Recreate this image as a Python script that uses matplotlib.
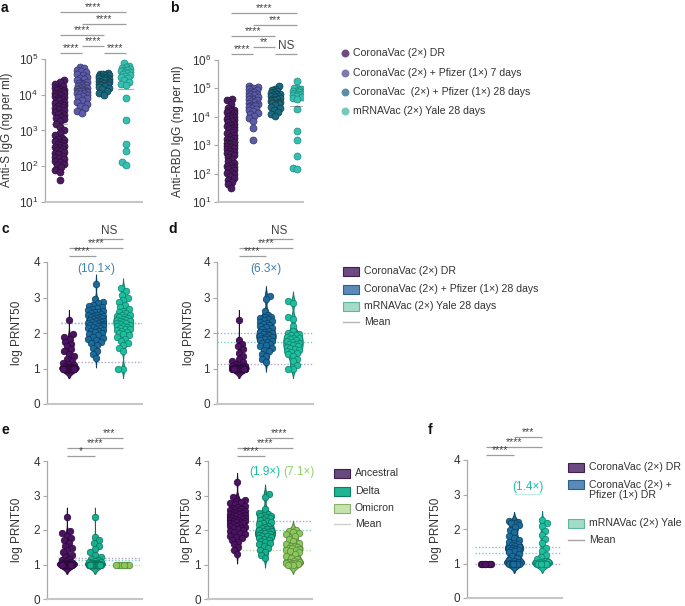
import numpy as np
import matplotlib
matplotlib.use('Agg')
import matplotlib.pyplot as plt
import matplotlib.transforms as mtransforms
from matplotlib.patches import Rectangle
from matplotlib.ticker import LogLocator, NullLocator, FixedLocator

plt.rcParams['font.family'] = ['Liberation Sans', 'DejaVu Sans']
plt.rcParams['mathtext.fontset'] = 'custom'
plt.rcParams['mathtext.rm'] = 'Liberation Sans'
plt.rcParams['mathtext.it'] = 'Liberation Sans:italic'
plt.rcParams['mathtext.bf'] = 'Liberation Sans:bold'

# ------------------------------------------------------------------ data
ab_groups = ['CoronaVac (2×) DR', 'CoronaVac (2×) + Pfizer (1×) 7 days',
             'CoronaVac  (2×) + Pfizer (1×) 28 days', 'mRNAVac (2×) Yale 28 days']
# panel a: log10 anti-S IgG (ng per ml)
a_dr = [4.41, 4.36, 4.29, 4.24, 4.20, 4.18, 4.16, 4.14, 4.12, 4.10, 4.08, 4.06, 4.04, 4.02,
        4.00, 3.97, 3.95, 3.92, 3.89, 3.86, 3.84, 3.81, 3.78, 3.75, 3.72, 3.69, 3.66, 3.63,
        3.60, 3.57, 3.53, 3.50, 3.46, 3.43, 3.39, 3.35, 3.31, 3.27, 3.19, 3.10, 3.02, 2.94,
        2.88, 2.80, 2.77, 2.74, 2.71, 2.68, 2.65, 2.62, 2.59, 2.57, 2.54, 2.51, 2.48, 2.45,
        2.42, 2.39, 2.36, 2.33, 2.30, 2.27, 2.23, 2.19, 2.15, 2.11, 2.07, 2.03, 1.97, 1.90,
        1.83, 1.62]
a_7d = [4.78, 4.74, 4.70, 4.66, 4.63, 4.59, 4.55, 4.51, 4.47, 4.43, 4.40, 4.37, 4.34, 4.32,
        4.30, 4.28, 4.26, 4.24, 4.22, 4.20, 4.18, 4.16, 4.14, 4.12, 4.10, 4.08, 4.06, 4.04,
        4.02, 4.00, 3.97, 3.94, 3.90, 3.85, 3.80, 3.74, 3.68, 3.62, 3.55, 3.50]
a_28d = [4.62, 4.59, 4.57, 4.55, 4.54, 4.52, 4.51, 4.49, 4.48, 4.46, 4.45, 4.43, 4.42, 4.40,
         4.39, 4.37, 4.36, 4.34, 4.33, 4.31, 4.29, 4.27, 4.25, 4.22, 4.19, 4.15, 4.10, 4.04,
         3.98]
a_mrna = [4.90, 4.80, 4.77, 4.74, 4.72, 4.70, 4.69, 4.67, 4.65, 4.63, 4.61, 4.59, 4.56, 4.53,
          4.50, 4.46, 4.42, 4.37, 4.31, 4.26, 3.92, 3.29, 2.62, 2.42, 2.11, 2.03]
# panel b: log10 anti-RBD IgG (ng per ml)
b_dr = [4.63, 4.58, 4.45, 4.30, 4.24, 4.20, 4.16, 4.12, 4.08, 4.04, 4.00, 3.96, 3.92, 3.88,
        3.84, 3.80, 3.76, 3.72, 3.68, 3.64, 3.60, 3.56, 3.52, 3.47, 3.43, 3.36, 3.30, 3.25,
        3.21, 3.17, 3.13, 3.09, 3.05, 3.01, 2.97, 2.93, 2.89, 2.85, 2.81, 2.77, 2.73, 2.69,
        2.65, 2.58, 2.50, 2.43, 2.36, 2.31, 2.27, 2.23, 2.19, 2.15, 2.11, 2.07, 2.03, 1.98,
        1.92, 1.86, 1.78, 1.70, 1.62, 1.48]
b_7d = [5.08, 5.05, 5.02, 5.00, 4.97, 4.94, 4.91, 4.88, 4.85, 4.82, 4.79, 4.76, 4.73, 4.70,
        4.67, 4.64, 4.61, 4.58, 4.55, 4.52, 4.49, 4.46, 4.43, 4.40, 4.36, 4.32, 4.28, 4.24,
        4.20, 4.15, 4.10, 4.03, 3.95, 3.85, 3.60, 3.18]
b_28d = [5.08, 4.98, 4.94, 4.90, 4.87, 4.84, 4.82, 4.79, 4.77, 4.74, 4.72, 4.69, 4.67, 4.64,
         4.62, 4.59, 4.56, 4.53, 4.50, 4.47, 4.44, 4.40, 4.36, 4.31, 4.25, 4.18, 4.10, 4.04]
b_mrna = [5.27, 5.03, 5.00, 4.97, 4.94, 4.92, 4.90, 4.88, 4.86, 4.84, 4.82, 4.80, 4.78, 4.76,
          4.73, 4.70, 4.66, 4.62, 4.27, 3.50, 3.18, 2.62, 2.18, 2.16]

# panels c-f: log PRNT50
c_dr = [2.38, 1.96, 1.90, 1.84, 1.76, 1.70, 1.62, 1.55, 1.48, 1.42, 1.35, 1.28, 1.22, 1.16,
        1.12, 1.09, 1.07, 1.05, 1.04, 1.03, 1.02, 1.02, 1.01, 1.01, 1.00, 1.00, 1.00, 1.00,
        1.00, 1.00, 1.00, 1.00, 1.00, 1.00, 1.00, 1.00, 1.00, 1.00, 1.00, 1.00, 1.00, 1.00,
        1.00, 1.00, 1.00, 1.00, 1.00, 1.00]
c_pf = [3.38, 2.95, 2.88, 2.85, 2.80, 2.77, 2.74, 2.70, 2.67, 2.64, 2.62, 2.60, 2.58, 2.56,
        2.54, 2.52, 2.50, 2.49, 2.47, 2.46, 2.44, 2.43, 2.41, 2.40, 2.38, 2.37, 2.35, 2.34,
        2.32, 2.31, 2.29, 2.28, 2.26, 2.25, 2.23, 2.22, 2.20, 2.19, 2.17, 2.15, 2.13, 2.11,
        2.09, 2.07, 2.05, 2.02, 1.99, 1.96, 1.93, 1.90, 1.87, 1.84, 1.80, 1.76, 1.72, 1.66,
        1.58, 1.50, 1.42, 1.30]
c_mrna = [3.27, 3.18, 3.08, 3.00, 2.94, 2.88, 2.80, 2.74, 2.68, 2.62, 2.58, 2.55, 2.52, 2.50,
          2.48, 2.46, 2.44, 2.42, 2.40, 2.38, 2.36, 2.35, 2.33, 2.31, 2.29, 2.27, 2.25, 2.23,
          2.21, 2.19, 2.17, 2.15, 2.12, 2.10, 2.08, 2.05, 2.02, 2.00, 1.97, 1.93, 1.89, 1.84,
          1.78, 1.72, 1.65, 1.58, 1.50, 1.00, 1.00]
d_dr = [2.38, 1.80, 1.70, 1.62, 1.55, 1.45, 1.35, 1.28, 1.22, 1.17, 1.13, 1.10, 1.08, 1.06,
        1.05, 1.04, 1.03, 1.02, 1.02, 1.01, 1.01, 1.00, 1.00, 1.00, 1.00, 1.00, 1.00, 1.00,
        1.00, 1.00, 1.00, 1.00, 1.00, 1.00, 1.00, 1.00, 1.00, 1.00, 1.00, 1.00, 1.00, 1.00,
        1.00, 1.00, 1.00, 1.00, 1.00]
d_pf = [3.05, 2.95, 2.62, 2.50, 2.46, 2.44, 2.42, 2.40, 2.37, 2.34, 2.31, 2.28, 2.25, 2.22,
        2.19, 2.16, 2.13, 2.10, 2.07, 2.04, 2.02, 2.00, 1.98, 1.96, 1.94, 1.92, 1.90, 1.88,
        1.86, 1.84, 1.82, 1.80, 1.78, 1.75, 1.72, 1.69, 1.66, 1.62, 1.58, 1.53, 1.48, 1.42,
        1.35, 1.27, 1.18]
d_mrna = [2.90, 2.84, 2.45, 2.40, 2.20, 2.05, 2.00, 1.97, 1.95, 1.93, 1.90, 1.87, 1.85, 1.82,
          1.80, 1.78, 1.75, 1.72, 1.70, 1.68, 1.65, 1.62, 1.60, 1.57, 1.55, 1.52, 1.50, 1.47,
          1.44, 1.40, 1.35, 1.28, 1.20, 1.10, 1.00, 1.00]
# e: ancestral / delta / omicron (ancestral = c, delta = d)
e_dr_omicron = [1.00, 1.00, 1.00, 1.00, 1.00, 1.00, 1.00, 1.00]
e_pf_omicron = [2.00, 1.98, 1.95, 1.92, 1.88, 1.82, 1.75, 1.68, 1.62, 1.58, 1.55, 1.53, 1.51,
                1.49, 1.47, 1.45, 1.43, 1.41, 1.38, 1.35, 1.30, 1.25, 1.20, 1.15, 1.10, 1.08,
                1.06, 1.05, 1.04, 1.03, 1.02, 1.01, 1.00, 1.00]
# f
f_dr = [1.00, 1.00, 1.00, 1.00, 1.00, 1.00, 1.00, 1.00]
f_pf = [2.22, 2.20, 2.18, 2.16, 2.12, 2.05, 1.98, 1.90, 1.80, 1.74, 1.68, 1.63, 1.59, 1.56,
        1.53, 1.50, 1.48, 1.46, 1.44, 1.42, 1.40, 1.38, 1.35, 1.32, 1.28, 1.22, 1.15, 1.10,
        1.06, 1.04, 1.02, 1.01, 1.00, 1.00, 1.00, 1.00, 1.00, 1.00]
f_mrna = [2.25, 2.18, 2.10, 1.95, 1.82, 1.70, 1.58, 1.45, 1.35, 1.25, 1.18, 1.12, 1.08, 1.05,
          1.04, 1.03, 1.02, 1.01, 1.00, 1.00, 1.00, 1.00, 1.00, 1.00, 1.00, 1.00]

cd_groups = ['CoronaVac (2×) DR', 'CoronaVac (2×) + Pfizer (1×) 28 days', 'mRNAVac (2×) Yale 28 days']
e_groups = ['Ancestral', 'Delta', 'Omicron']
f_groups = ['CoronaVac (2×) DR', 'CoronaVac (2×) +\nPfizer (1×) DR', 'mRNAVac (2×) Yale']
fold_c, fold_d = '(10.1×)', '(6.3×)'
fold_e = ['(1.9×)', '(7.1×)']
fold_f = '(1.4×)'

# ------------------------------------------------------------------ colours
AB_FACE = ['#4a1a5f', '#5d5ca6', '#19697f', '#35c1b1']
AB_EDGE = ['#2a0c38', '#33346c', '#0b3d4c', '#1d8a7e']
AB_LEG = ['#6d4d80', '#7d7aae', '#5d8fa3', '#6fcabd']
PUR, PUR_E = '#4b1362', '#2b0838'
BLU, BLU_E = '#1b6b9c', '#0c3f60'
TEA, TEA_E = '#1dbf9f', '#0f7f69'
DEL, DEL_E = '#17b08e', '#0b6e58'
OMI, OMI_E = '#8dc65d', '#56863a'
M_PUR, M_BLU, M_TEA, M_GRN = '#b9a3c9', '#8dbbd9', '#74d0c6', '#b7dc98'
TXT = '#333333'
LEG_FS = 7.6

W, H = 685, 606
fig = plt.figure(figsize=(W / 100, H / 100), dpi=100)
ov = fig.add_axes([0, 0, 1, 1])
ov.set_xlim(0, W)
ov.set_ylim(H, 0)
ov.axis('off')


def add_ax(x0, y0, x1, y1):
    ax = fig.add_axes([x0 / W, 1 - y1 / H, (x1 - x0) / W, (y1 - y0) / H])
    ax.patch.set_alpha(0)
    for s in ['top', 'right']:
        ax.spines[s].set_visible(False)
    ax.spines['left'].set_color('#a9a9a9')
    ax.spines['left'].set_linewidth(0.9)
    ax.spines['bottom'].set_color('#c6c6c6')
    ax.spines['bottom'].set_linewidth(1.5)
    ax.tick_params(axis='x', bottom=False, labelbottom=False)
    ax.tick_params(axis='y', colors='#a9a9a9', labelcolor=TXT, length=3, width=0.8,
                   labelsize=8.5, pad=2)
    return ax


def swarm(ax, pos, vals, d, max_half, overlap=0.8):
    vals = np.asarray(vals, float)
    pts = ax.transData.transform(np.column_stack([np.full(len(vals), pos), vals]))
    ypx = pts[:, 1]
    dmin = d * overlap
    order = np.argsort(ypx, kind='stable')
    px_list, py_list = [], []
    xs = np.zeros(len(vals))
    grid = np.linspace(-max_half, max_half, 25)
    for n, i in enumerate(order):
        y = ypx[i]
        near = [(px, py) for px, py in zip(px_list, py_list) if abs(py - y) < dmin]
        cands = [0.0]
        for px, py in near:
            dx = np.sqrt(max(dmin ** 2 - (py - y) ** 2, 0))
            cands += [px + dx, px - dx]
        sgn = 1 if n % 2 == 0 else -1
        cands = sorted(cands, key=lambda c: (round(abs(c), 3), -sgn * c))
        chosen = None
        for c in cands:
            if abs(c) > max_half + 1e-6:
                continue
            if all((c - px) ** 2 + (y - py) ** 2 >= dmin ** 2 - 1e-6 for px, py in near):
                chosen = c
                break
        if chosen is None:
            best, bestd = 0.0, -1
            for c in sorted(grid, key=abs):
                md = min(np.hypot(c - px, y - py) for px, py in near)
                if md > bestd + 1e-6:
                    best, bestd = c, md
            chosen = best
        xs[i] = chosen
        px_list.append(chosen)
        py_list.append(y)
    unit = ax.transData.transform((1, 0))[0] - ax.transData.transform((0, 0))[0]
    return pos + xs / unit


def violin(ax, pos, vals, hw, face, edge, bw=0.11, ext=0.27):
    v = np.asarray(vals, float)
    y = np.linspace(v.min() - ext, v.max() + ext, 400)
    dens = np.exp(-0.5 * ((y[:, None] - v[None, :]) / bw) ** 2).sum(1)
    dens = dens / dens.max() * hw
    ax.fill_betweenx(y, pos - dens, pos + dens, facecolor=face, edgecolor=edge,
                     linewidth=0.7, zorder=1)


def sig(ax, i, j, level, label):
    tr = mtransforms.blended_transform_factory(ax.transData, ax.transAxes)
    ax.plot([i, j], [level, level], transform=tr, color='#9d9d9d', lw=0.9,
            clip_on=False, solid_capstyle='butt')
    fs = 8.5 if label == 'NS' else 7.5
    off = 0.012 if label == 'NS' else 0.0
    ax.text((i + j) / 2, level + off, label, transform=tr, ha='center', va='bottom',
            fontsize=fs, color='#444444', clip_on=False)


def ylabel(x, y, text):
    ov.text(x, y, text, rotation=90, ha='center', va='center', fontsize=8.5, color=TXT)


def panel_label(x, y, t):
    ov.text(x, y, t, ha='left', va='center', fontsize=10, fontweight='bold', color='#111111')


# ------------------------------------------------------------------ panels a, b
def log_panel(box, xlim, ylim, datasets, sigs, ymax_half):
    ax = add_ax(*box)
    ax.set_yscale('log')
    ax.set_ylim(*ylim)
    ax.set_xlim(*xlim)
    ax.yaxis.set_major_locator(LogLocator(base=10, numticks=10))
    ax.yaxis.set_minor_locator(NullLocator())
    for i, lv in enumerate(datasets):
        vals = 10 ** np.asarray(lv)
        xs = swarm(ax, i, vals, 7.0, ymax_half[i], overlap=0.74)
        ax.scatter(xs, vals, s=25, facecolor=AB_FACE[i], edgecolor=AB_EDGE[i],
                   linewidth=0.5, zorder=3)
        m = 10 ** np.mean(lv)
        ax.plot([i - 0.34, i + 0.34], [m, m], color='#3a3a3a', lw=0.6, alpha=0.5, zorder=4)
    levels = [1.329, 1.245, 1.168, 1.091, 1.042, 1.042]
    for (i, j, lab), lev in zip(sigs, levels):
        sig(ax, i, j, lev, lab)
    return ax


axa = log_panel((45, 59, 142, 202), (-0.68, 3.73), (10, 1e5),
                [a_dr, a_7d, a_28d, a_mrna],
                [(0, 3, '****'), (1, 3, '****'), (0, 2, '****'), (1, 2, '****'),
                 (0, 1, '****'), (2, 3, '****')], [4.5, 5, 5, 4.5])
axb = log_panel((218, 60, 303, 202), (-0.59, 3.27), (10, 1e6),
                [b_dr, b_7d, b_28d, b_mrna],
                [(0, 3, '****'), (1, 3, '***'), (0, 2, '****'), (1, 2, '**'),
                 (0, 1, '****'), (2, 3, 'NS')], [3.5, 4.5, 4.5, 4.5])
ylabel(7, 130, 'Anti-S IgG (ng per ml)')
ylabel(178, 131, 'Anti-RBD IgG (ng per ml)')

# legend a/b
for k, (lab, col) in enumerate(zip(ab_groups, AB_LEG)):
    y = [53, 73, 92, 111][k]
    ov.scatter([345], [y], s=22, color=col, zorder=5)
    ov.text(353, y, lab, va='center', ha='left', fontsize=LEG_FS, color=TXT)


# ------------------------------------------------------------------ violin panels
def vio_panel(box, xlim, datasets, faces, edges, halves, mcols, sigs, levels, mx0=-0.3):
    ax = add_ax(*box)
    ax.set_ylim(0, 4)
    ax.set_xlim(*xlim)
    ax.yaxis.set_major_locator(FixedLocator([0, 1, 2, 3, 4]))
    for i, vals in enumerate(datasets):
        v = np.asarray(vals, float)
        if v.std() > 0:
            violin(ax, i, v, 0.36, faces[i], edges[i])
        xs = swarm(ax, i, v, 6.5, halves[i], overlap=0.8)
        ax.scatter(xs, v, s=22, facecolor=faces[i], edgecolor=edges[i], linewidth=0.5,
                   zorder=3)
    for i, vals in enumerate(datasets):
        m = np.mean(vals)
        ax.plot([mx0, xlim[1]], [m, m], color=mcols[i], ls=(0, (1, 1.4)), lw=1.0,
                zorder=0.5)
    for (i, j, lab), lev in zip(sigs, levels):
        sig(ax, i, j, lev, lab)
    return ax


lev_cd = [1.162, 1.099, 1.042]
lev_ef = [1.165, 1.094, 1.036]
axc = vio_panel((47, 262, 142, 404), (-0.81, 2.70), [c_dr, c_pf, c_mrna],
                [PUR, BLU, TEA], [PUR_E, BLU_E, TEA_E], [5.5, 7.5, 6.5],
                [M_PUR, M_BLU, M_TEA],
                [(1, 2, 'NS'), (0, 2, '****'), (0, 1, '****')], lev_cd)
axc.text(1, 3.80, fold_c, ha='center', va='center', fontsize=8.5, color='#3b80b5')
axd = vio_panel((217, 262, 313, 404), (-0.81, 2.74), [d_dr, d_pf, d_mrna],
                [PUR, BLU, TEA], [PUR_E, BLU_E, TEA_E], [6.5, 6, 6],
                [M_PUR, M_BLU, M_TEA],
                [(1, 2, 'NS'), (0, 2, '****'), (0, 1, '****')], lev_cd, mx0=-0.81)
axd.text(1, 3.80, fold_d, ha='center', va='center', fontsize=8.5, color='#3b80b5')
ylabel(17, 333, 'log PRNT50')
ylabel(189, 333, 'log PRNT50')

axe1 = vio_panel((47, 461, 142, 599), (-0.71, 2.68), [c_dr, d_dr, e_dr_omicron],
                 [PUR, DEL, OMI], [PUR_E, DEL_E, OMI_E], [5, 6, 6.5],
                 [M_PUR, M_TEA, M_GRN],
                 [(1, 2, '***'), (0, 2, '****'), (0, 1, '*')], lev_ef)
axe2 = vio_panel((208, 461, 312, 599), (-1.04, 2.68), [c_pf, d_pf, e_pf_omicron],
                 [PUR, DEL, OMI], [PUR_E, DEL_E, OMI_E], [7.5, 6, 6.5],
                 [M_PUR, M_TEA, M_GRN],
                 [(1, 2, '****'), (0, 2, '****'), (0, 1, '****')], lev_ef)
axe2.text(1.0, 3.68, fold_e[0], ha='center', va='center', fontsize=8.5, color='#1dbf9f')
axe2.text(2.2, 3.68, fold_e[1], ha='center', va='center', fontsize=8.5, color='#8fd16a')
ylabel(17, 530, 'log PRNT50')
ylabel(187, 530, 'log PRNT50')

axf = vio_panel((467, 460, 562, 598), (-0.68, 2.71), [f_dr, f_pf, f_mrna],
                [PUR, BLU, TEA], [PUR_E, BLU_E, TEA_E], [6, 5, 6],
                [M_PUR, M_BLU, M_TEA],
                [(1, 2, '***'), (0, 2, '****'), (0, 1, '****')], lev_ef, mx0=-0.4)
axf.text(1.5, 3.22, fold_f, ha='center', va='center', fontsize=8.5, color='#1dbf9f')
axf.plot([1.05, 1.95], [3.02, 3.02], color='#bfeee2', lw=0.8, zorder=0.5)
ylabel(436, 530, 'log PRNT50')


# ------------------------------------------------------------------ patch legends
def patch_legend(x0, rows, labels, faces, edges, mean_y, mean_col):
    for y, lab, fc, ec in zip(rows, labels, faces, edges):
        ov.add_patch(Rectangle((x0, y - 4.5), 16, 9, facecolor=fc, edgecolor=ec, lw=0.8))
        ov.text(x0 + 21, y if '\n' not in lab else y + 6, lab, va='center', ha='left',
                fontsize=LEG_FS, color=TXT, linespacing=1.1)
    ov.plot([x0, x0 + 16], [mean_y, mean_y], color=mean_col, lw=1.0)
    ov.text(x0 + 21, mean_y, 'Mean', va='center', ha='left', fontsize=LEG_FS, color=TXT)


patch_legend(343, [271, 289, 306], cd_groups,
             ['#6d4a80', '#5a8bb8', '#a4dccb'], ['#3e2050', '#2f5f88', '#5fb5a0'],
             322, '#b5b5b5')
patch_legend(334, [473, 491, 508], e_groups,
             ['#6a4a7e', '#1db592', '#c7e4ae'], ['#3d2050', '#0f7a62', '#8ab070'],
             524, '#cfcfcf')
patch_legend(568, [467, 484, 523], f_groups,
             ['#6d4a80', '#5a8bb8', '#a2dcc8'], ['#3e2050', '#2f5f88', '#5fb5a0'],
             540, '#a5a5a5')

panel_label(1, 8, 'a')
panel_label(170, 8, 'b')
panel_label(1, 229, 'c')
panel_label(168, 229, 'd')
panel_label(1, 430, 'e')
panel_label(428, 430, 'f')

fig.savefig('out.png', dpi=100)
